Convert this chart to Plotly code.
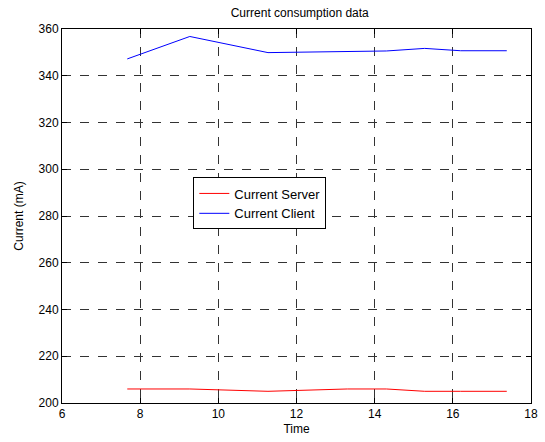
import plotly.graph_objects as go

time = [7.67, 9.27, 11.27, 13.3, 14.3, 15.28, 16.2, 17.38]
server_ma = [206, 206, 205, 206, 206, 205, 205, 205]
client_ma = [347.2, 356.8, 349.9, 350.5, 350.6, 351.7, 350.7, 350.7]

x_ticks = [6, 8, 10, 12, 14, 16, 18]
y_ticks = [200, 220, 240, 260, 280, 300, 320, 340, 360]

font = "Liberation Sans, Arial, Helvetica, sans-serif"

fig = go.Figure()
fig.add_trace(go.Scatter(x=time, y=server_ma, mode="lines", name="Current Server",
                         line=dict(color="#ff0000", width=1)))
fig.add_trace(go.Scatter(x=time, y=client_ma, mode="lines", name="Current Client",
                         line=dict(color="#0000ff", width=1)))

axis_common = dict(
    showline=True, linecolor="black", linewidth=1, mirror="allticks",
    ticks="inside", ticklen=5, tickcolor="black",
    showgrid=True, gridcolor="#333333", gridwidth=1, griddash="dash",
    zeroline=False, tickfont=dict(size=12, color="black", family=font),
)

fig.update_xaxes(range=[6, 18], tickvals=x_ticks, title=dict(text="Time", font=dict(size=12, family=font, color="black"), standoff=4),
                 **axis_common)
fig.update_yaxes(range=[200, 360], tickvals=y_ticks, title=dict(text="Current (mA)", font=dict(size=12, family=font, color="black"), standoff=12),
                 **axis_common)

fig.update_layout(
    width=545, height=442,
    margin=dict(l=62, r=7, t=29, b=39),
    paper_bgcolor="white", plot_bgcolor="white",
    title=dict(text="Current consumption data", x=0.55, xanchor="center", y=0.972, yanchor="middle",
               font=dict(size=12, family=font, color="black")),
    legend=dict(x=0.28, y=0.603, xanchor="left", yanchor="top",
                bgcolor="white", bordercolor="black", borderwidth=1,
                font=dict(size=13, family=font, color="black"),
                tracegroupgap=0, itemwidth=30),
    showlegend=True,
)

fig.write_html("out.html")
